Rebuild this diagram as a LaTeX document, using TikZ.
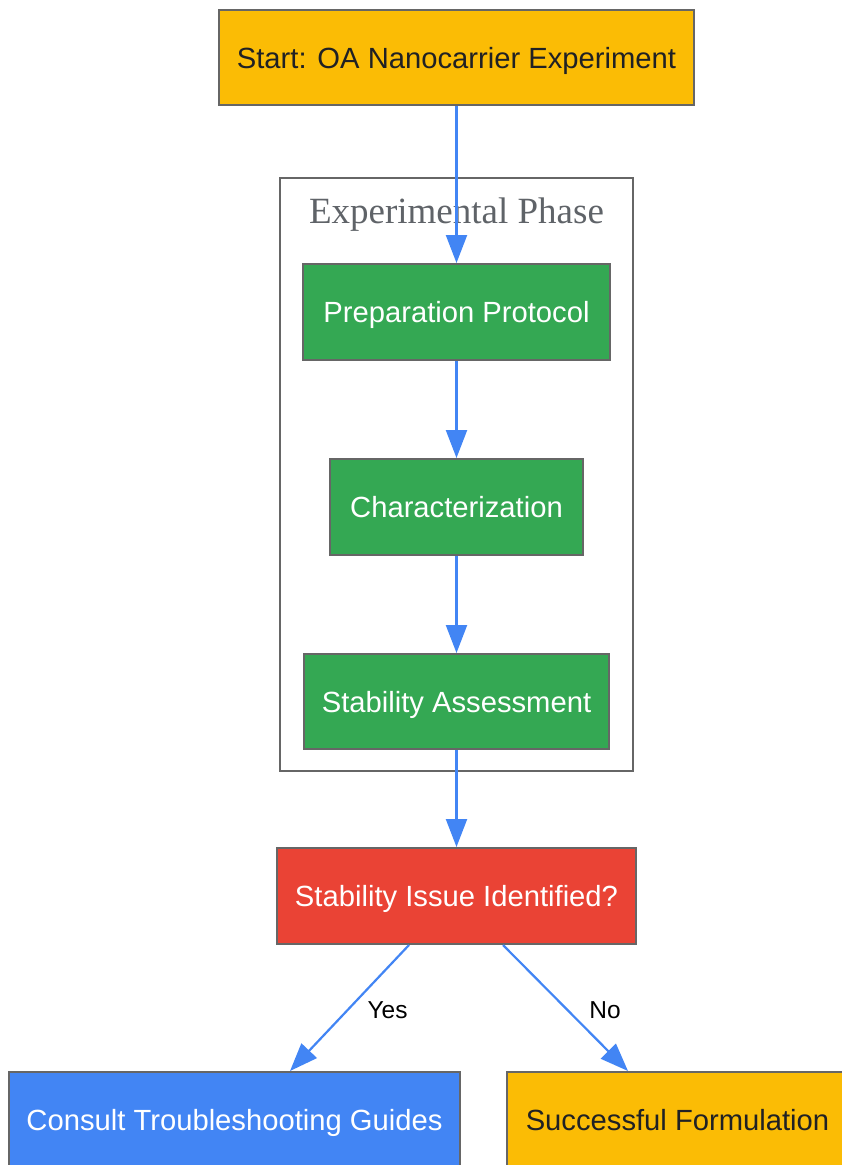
\documentclass[tikz,border=0pt]{standalone}
\usepackage{fontspec}
\setmainfont{Liberation Sans}
\newfontfamily\serifphase{Liberation Serif}
\usetikzlibrary{arrows.meta}
\definecolor{gyellow}{HTML}{FBBC05}
\definecolor{ggreen}{HTML}{34A853}
\definecolor{gred}{HTML}{EA4335}
\definecolor{gblue}{HTML}{4285F4}
\definecolor{gborder}{HTML}{666666}
\definecolor{gtext}{HTML}{202124}
\definecolor{glabel}{HTML}{5F6368}
\begin{document}
\begin{tikzpicture}[x=1pt, y=-1pt,
  box/.style={draw=gborder, line width=2pt, inner sep=0pt, minimum height=96pt,
    text height=21pt, text depth=0pt, font=\fontsize{29.2}{34}\selectfont},
  darkbox/.style={box, text=gtext},
  lightbox/.style={box, text=white},
  flow/.style={draw=gblue, line width=2.2pt, -{Triangle[length=28pt, width=21pt]}},
  edgelabel/.style={font=\fontsize{24.5}{28}\selectfont, text=black, text height=17.5pt, text depth=0pt, yshift=-2pt}]
  \useasboundingbox (0,0) rectangle (841,1165);

  \node[darkbox, fill=gyellow, minimum width=475pt, minimum height=95pt] (start) at (456.5,57.5) {Start: OA Nanocarrier Experiment};

  % experimental phase
  \draw[gborder, line width=2pt] (280,178) rectangle (633,771);
  \node[text=glabel, font=\serifphase\fontsize{37}{42}\selectfont] (phase) at (456.5,215) {Experimental Phase};

  \node[lightbox, fill=ggreen, minimum width=307pt] (prep) at (456.5,312) {Preparation Protocol};
  \node[lightbox, fill=ggreen, minimum width=253pt] (char) at (456.5,507) {Characterization};
  \node[lightbox, fill=ggreen, minimum width=305pt, minimum height=95pt] (assess) at (456.5,701.5) {Stability Assessment};

  \node[lightbox, fill=gred, minimum width=359pt] (issue) at (456.5,896) {Stability Issue Identified?};

  \node[lightbox, fill=gblue, minimum width=451pt] (consult) at (234.5,1120) {Consult Troubleshooting Guides};
  \node[darkbox, fill=gyellow, minimum width=341pt] (success) at (677.5,1120) {Successful Formulation};

  \draw[flow] (start) -- (prep);
  \draw[flow] (prep) -- (char);
  \draw[flow] (char) -- (assess);
  \draw[flow] (assess) -- (issue);
  \draw[flow] ([xshift=-47.5pt]issue.south) -- node[edgelabel, xshift=38pt] {Yes} ([xshift=55.5pt]consult.north);
  \draw[flow] ([xshift=46.5pt]issue.south) -- node[edgelabel, xshift=39.5pt] {No} ([xshift=-49.5pt]success.north);
\end{tikzpicture}
\end{document}
